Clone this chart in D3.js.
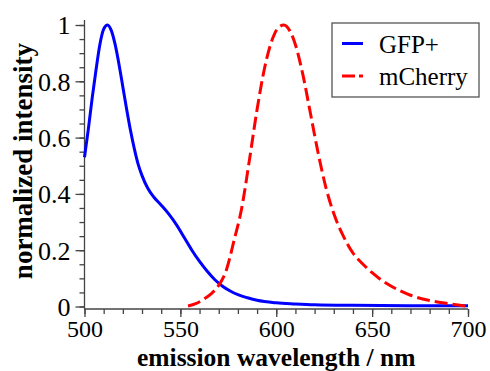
<!DOCTYPE html>
<html lang="en">
<head>
    <meta charset="UTF-8">
    <title>emission spectra</title>
    <script src="https://cdn.jsdelivr.net/npm/d3@7/dist/d3.min.js"></script>
    <style>
        body { margin: 0; background: #fff; }
        svg text { font-family: 'Liberation Serif', 'Times New Roman', serif; }
    </style>
</head>
<body>
    <div class="chart"></div>
<script>
    // emission spectra, [wavelength nm, normalized intensity]
    const gfp = [
        [500, 0.53], [502, 0.63], [504, 0.74], [506, 0.84], [508, 0.93], [510, 0.985], [512, 1.0],
        [514, 0.98], [516, 0.93], [518, 0.86], [520, 0.78], [522, 0.70], [524, 0.625], [526, 0.56],
        [528, 0.505], [530, 0.465], [533, 0.42], [536, 0.39], [540, 0.36], [544, 0.328], [548, 0.29],
        [552, 0.245], [556, 0.2], [560, 0.16], [564, 0.125], [568, 0.095], [572, 0.072], [576, 0.055],
        [580, 0.042], [585, 0.031], [590, 0.022], [600, 0.013], [610, 0.009], [620, 0.006],
        [640, 0.004], [670, 0.003], [700, 0.003]
    ]
    const mcherry = [
        [554, 0.002], [558, 0.01], [562, 0.025], [566, 0.045], [570, 0.075], [574, 0.13], [578, 0.235],
        [582, 0.35], [586, 0.52], [590, 0.7], [594, 0.85], [598, 0.95], [601, 0.99], [604, 1.0],
        [607, 0.98], [610, 0.93], [614, 0.82], [618, 0.68], [622, 0.54], [626, 0.42], [630, 0.33],
        [635, 0.25], [640, 0.19], [645, 0.152], [650, 0.12], [655, 0.093], [660, 0.072], [670, 0.04],
        [680, 0.021], [690, 0.01], [700, 0.001]
    ]
    const seriesNames = ['GFP+', 'mCherry']
    const xTicks = [500, 550, 600, 650, 700]
    const yTicks = [0, 0.2, 0.4, 0.6, 0.8, 1]

    const width = 490
    const height = 371
    const plot = { left: 84.5, right: 468, top: 25, bottom: 306.5 }

    const xScale = d3.scaleLinear().domain([500, 700]).range([plot.left, plot.right])
    const yScale = d3.scaleLinear().domain([0, 1]).range([plot.bottom, plot.top])

    const svg = d3.select('.chart').append('svg')
        .attr('width', width)
        .attr('height', height)

    const axisColor = '#444'
    const serif = "'Liberation Serif', 'Times New Roman', serif"

    // y axis: major ticks every 0.2, minor every 0.05
    const gY = svg.append('g').attr('transform', `translate(${plot.left}, 0)`)
    gY.call(d3.axisLeft(yScale).tickValues(d3.range(0, 1.001, 0.05)).tickSize(5).tickFormat(''))
    gY.select('.domain').remove()
    gY.append('line').attr('y1', 20).attr('y2', 309).attr('stroke', axisColor).attr('stroke-width', 1.3)
    const gYmaj = svg.append('g').attr('transform', `translate(${plot.left}, 0)`)
    gYmaj.call(d3.axisLeft(yScale).tickValues(yTicks).tickSize(9).tickPadding(5).tickFormat(d3.format('')))
    gYmaj.select('.domain').remove()
    gYmaj.attr('font-family', serif)
    gYmaj.selectAll('text').attr('font-size', 26).attr('fill', '#000').attr('dy', '0.34em')

    // x axis: major every 50, minor every 10
    const axisY = 309
    const gX = svg.append('g').attr('transform', `translate(0, ${axisY})`)
    gX.call(d3.axisBottom(xScale).tickValues(d3.range(500, 701, 10)).tickSize(5).tickFormat(''))
    gX.select('.domain').remove()
    gX.append('line').attr('x1', plot.left).attr('x2', plot.right).attr('stroke', axisColor).attr('stroke-width', 1.3)
    const gXmaj = svg.append('g').attr('transform', `translate(0, ${axisY})`)
    gXmaj.call(d3.axisBottom(xScale).tickValues(xTicks).tickSize(8).tickPadding(3).tickFormat(d3.format('d')))
    gXmaj.select('.domain').remove()
    gXmaj.attr('font-family', serif)
    gXmaj.selectAll('text').attr('font-size', 24).attr('fill', '#000')
    svg.selectAll('.tick line').attr('stroke', axisColor).attr('stroke-width', 1.3)

    // axis titles
    svg.append('text')
        .attr('x', (plot.left + plot.right) / 2)
        .attr('y', 365.5)
        .attr('text-anchor', 'middle')
        .attr('font-family', serif)
        .attr('font-size', 25.5)
        .attr('font-weight', 'bold')
        .text('emission wavelength / nm')
    svg.append('text')
        .attr('transform', 'translate(32, 161) rotate(-90)')
        .attr('text-anchor', 'middle')
        .attr('font-family', serif)
        .attr('font-size', 27)
        .attr('font-weight', 'bold')
        .text('normalized intensity')

    // curves
    const line = d3.line().x(d => xScale(d[0])).y(d => yScale(d[1])).curve(d3.curveMonotoneX)
    svg.append('path')
        .attr('d', line(gfp))
        .attr('fill', 'none')
        .attr('stroke', '#0000ff')
        .attr('stroke-width', 3)
    svg.append('path')
        .attr('d', line(mcherry))
        .attr('fill', 'none')
        .attr('stroke', '#ff0000')
        .attr('stroke-width', 3)
        .attr('stroke-dasharray', '13 5')

    // legend
    const legend = svg.append('g')
    legend.append('rect')
        .attr('x', 332).attr('y', 23).attr('width', 147).attr('height', 74)
        .attr('fill', '#fff').attr('stroke', '#555').attr('stroke-width', 1.3)
    const styles = [{ color: '#0000ff', dash: null }, { color: '#ff0000', dash: '13 4' }]
    seriesNames.forEach((name, i) => {
        const y = 43.5 + i * 32.5
        legend.append('line')
            .attr('x1', 342).attr('x2', 363).attr('y1', y).attr('y2', y)
            .attr('stroke', styles[i].color).attr('stroke-width', 3)
            .attr('stroke-dasharray', styles[i].dash)
        legend.append('text')
            .attr('x', 379).attr('y', y + 9)
            .attr('font-family', serif)
            .attr('font-size', 25)
            .text(name)
    })
</script>
</body>
</html>
